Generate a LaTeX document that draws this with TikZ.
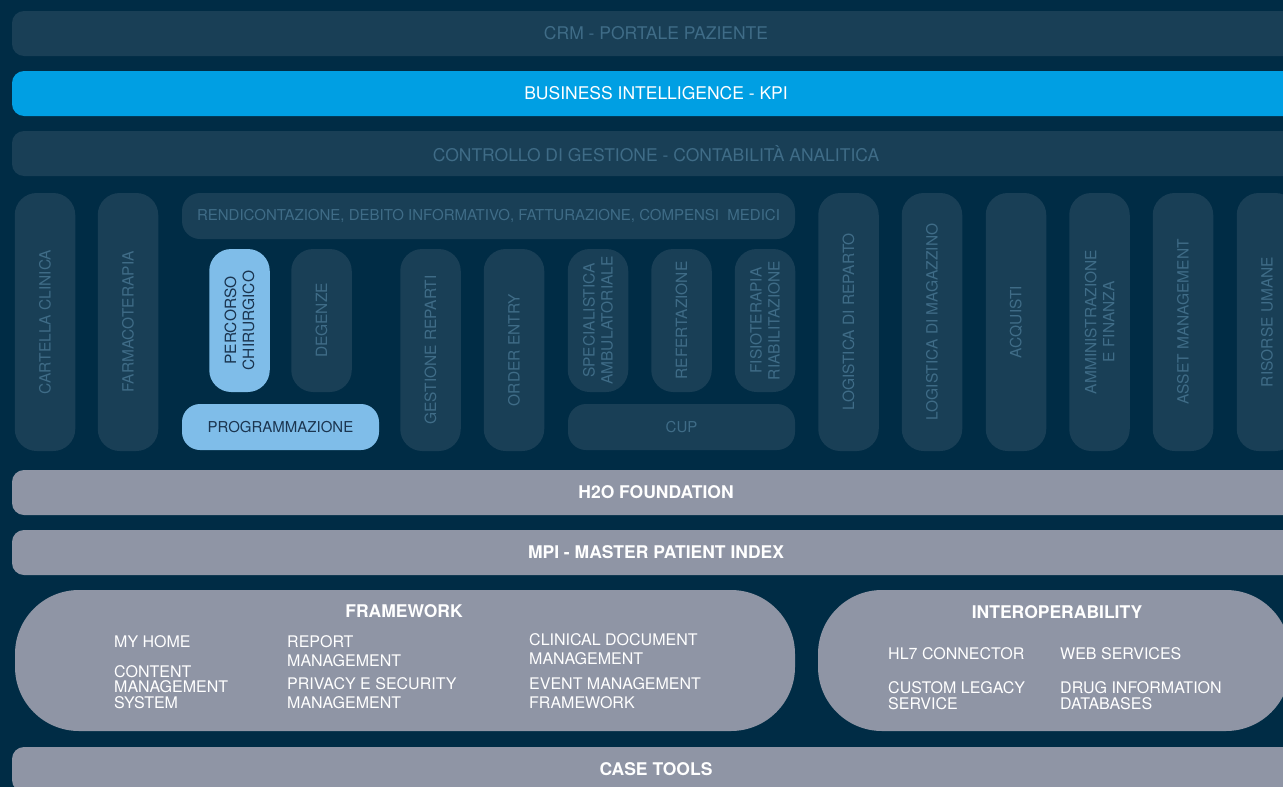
\documentclass[tikz,border=0pt]{standalone}
\usepackage{fontspec}
\setmainfont{TeX Gyre Heros}
\usepackage{tikz}
\definecolor{bgnavy}{HTML}{002C45}
\definecolor{boxdark}{HTML}{193F56}
\definecolor{textmute}{HTML}{3F6C87}
\definecolor{biblue}{HTML}{009FE3}
\definecolor{lightblue}{HTML}{7FBDE9}
\definecolor{navytext}{HTML}{1B3550}
\definecolor{greyfill}{HTML}{8F95A5}

\begin{document}
\begin{tikzpicture}[x=1pt,y=-1pt,
    band/.style={fill=boxdark,rounded corners=12pt,minimum width=1288pt,minimum height=45pt,inner sep=0pt,text=textmute,font=\fontsize{17.5}{20}\selectfont},
    greyband/.style={band,fill=greyfill,text=white,font=\bfseries\fontsize{17.5}{20}\selectfont},
    column/.style={fill=boxdark,rounded corners=22pt,rotate=90,minimum height=60.5pt,inner sep=0pt,text=textmute,align=center,font=\fontsize{15.5}{18}\selectfont},
    wide/.style={fill=boxdark,rounded corners=18pt,minimum height=46pt,inner sep=0pt,text=textmute,font=\fontsize{15}{18}\selectfont},
    block/.style={fill=greyfill,rounded corners=64pt,minimum height=141pt,inner sep=0pt},
    title/.style={text=white,inner sep=0pt,font=\bfseries\fontsize{17.5}{20}\selectfont},
    item/.style={text=white,align=left,anchor=base west,inner sep=0pt,font=\fontsize{16}{18.5}\selectfont},
    tightitem/.style={item,font=\fontsize{16}{15.5}\selectfont}]
    \useasboundingbox (0,0) rectangle (1283,787);
    \fill[bgnavy] (0,0) rectangle (1283,787);

    \node[band] at (656,33.5) (crm) {CRM - PORTALE PAZIENTE};
    \node[band,fill=biblue,text=white] at (656,93.5) (bi) {BUSINESS INTELLIGENCE - KPI};
    \node[band] at (656,153.5) (controllo) {CONTROLLO DI GESTIONE - CONTABILITÀ ANALITICA};

    \node[column,minimum width=258pt] at (45,322) (cartella) {CARTELLA CLINICA};
    \node[column,minimum width=258pt] at (128,322) (farmaco) {FARMACOTERAPIA};
    \node[wide,minimum width=613pt] at (488.5,216) (rendicontazione) {RENDICONTAZIONE, DEBITO INFORMATIVO, FATTURAZIONE, COMPENSI\ \ MEDICI};
    \node[column,minimum width=143pt,fill=lightblue,text=navytext] at (239.5,320.5) (percorso) {PERCORSO\\CHIRURGICO};
    \node[column,minimum width=143pt] at (321.5,320.5) (degenze) {DEGENZE};
    \node[wide,minimum width=197pt,fill=lightblue,text=navytext] at (280.5,427) (programmazione) {PROGRAMMAZIONE};
    \node[column,minimum width=202pt] at (430.5,350) (gestione) {GESTIONE REPARTI};
    \node[column,minimum width=202pt] at (514,350) (order) {ORDER ENTRY};
    \node[column,minimum width=143pt] at (598,320.5) (specialistica) {SPECIALISTICA\\AMBULATORIALE};
    \node[column,minimum width=143pt] at (681.5,320.5) (refertazione) {REFERTAZIONE};
    \node[column,minimum width=143pt] at (765,320.5) (fisioterapia) {FISIOTERAPIA\\RIABILITAZIONE};
    \node[wide,minimum width=227pt] at (681.5,427) (cup) {CUP};
    \node[column,minimum width=258pt] at (848.5,322) (logreparto) {LOGISTICA DI REPARTO};
    \node[column,minimum width=258pt] at (932,322) (logmagazzino) {LOGISTICA DI MAGAZZINO};
    \node[column,minimum width=258pt] at (1016,322) (acquisti) {ACQUISTI};
    \node[column,minimum width=258pt] at (1099.5,322) (amministrazione) {AMMINISTRAZIONE\\E FINANZA};
    \node[column,minimum width=258pt] at (1183,322) (asset) {ASSET MANAGEMENT};
    \node[column,minimum width=258pt] at (1267,322) (risorse) {RISORSE UMANE};

    \node[greyband] at (656,492.5) (h2o) {H2O FOUNDATION};
    \node[greyband] at (656,552.5) (mpi) {MPI - MASTER PATIENT INDEX};

    \node[block,minimum width=780pt] at (405,660.5) (framework) {};
    \node[title] at (404,611) (fwtitle) {FRAMEWORK};
    \node[item] at (114,647) (myhome) {MY HOME};
    \node[tightitem] at (114,708) (cms) {CONTENT\\MANAGEMENT\\SYSTEM};
    \node[item] at (287,666) (report) {REPORT\\MANAGEMENT};
    \node[item] at (287,708) (privacy) {PRIVACY E SECURITY\\MANAGEMENT};
    \node[item] at (529,664) (clinical) {CLINICAL DOCUMENT\\MANAGEMENT};
    \node[item] at (529,708) (event) {EVENT MANAGEMENT\\FRAMEWORK};

    \node[block,minimum width=472pt] at (1054,660.5) (interop) {};
    \node[title] at (1057,612) (iotitle) {INTEROPERABILITY};
    \node[item] at (888,659) (hl7) {HL7 CONNECTOR};
    \node[item] at (1060,659) (web) {WEB SERVICES};
    \node[tightitem] at (888,709) (legacy) {CUSTOM LEGACY\\SERVICE};
    \node[tightitem] at (1060,709) (drug) {DRUG INFORMATION\\DATABASES};

    \node[greyband] at (656,769.5) (case) {CASE TOOLS};
  \end{tikzpicture}
\end{document}
